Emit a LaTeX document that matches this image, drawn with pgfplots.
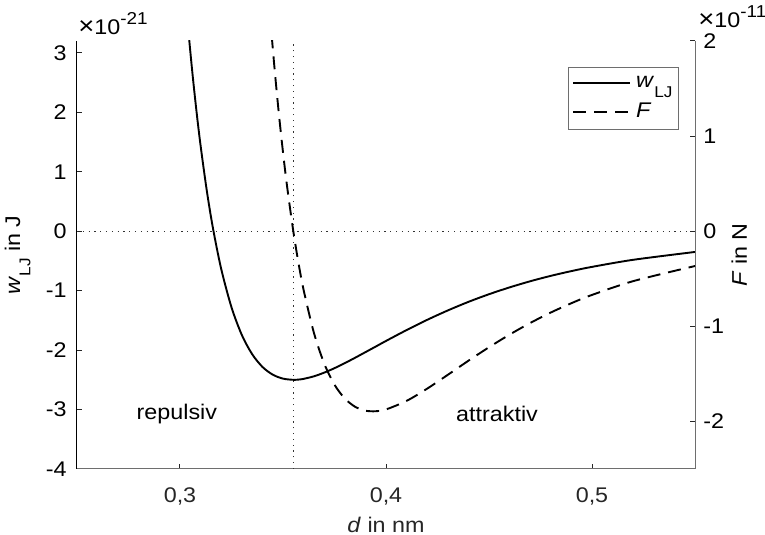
\documentclass[border=0pt]{standalone}
\usepackage{fontspec}
\setmainfont{Liberation Sans}[FakeStretch=1.1]
\usepackage{pgfplots}
\pgfplotsset{compat=1.18}

\definecolor{axdark}{RGB}{38,38,38}
\definecolor{axgray}{RGB}{110,110,110}
\definecolor{guide}{RGB}{50,50,50}
\newcommand{\fs}{\fontsize{10.6}{12.7}\selectfont}
% lowered, smaller subscript and raised exponent
\newcommand{\sub}[1]{\raisebox{-5.2pt}{\fontsize{7.8}{9}\selectfont #1}}
\newcommand{\expo}[1]{{\fontsize{12.5}{13}\selectfont\texttimes}10\raisebox{5pt}{\fontsize{8.6}{10}\selectfont #1}}

% Lennard-Jones potential w (in 1e-21 J) and force F (in 1e-11 N) over the distance d (nm)
\pgfplotsset{
  lj base/.style={
    scale only axis, width=309pt, height=214pt,
    xmin=0.25, xmax=0.55,
    tick align=inside, major tick length=2.5pt,
    /pgf/number format/assume math mode=true,
    tick label style={font=\fs},
    label style={font=\fs},
    axis line style={-},
    minor tick num=0,
  },
  curve/.style={black, line width=0.95pt, smooth},
  guideline/.style={guide, line width=0.55pt, dash pattern=on 0.6pt off 2.3pt},
}

\begin{document}
\begin{tikzpicture}[font=\fs]
\begin{axis}[lj base, name=main,
  ymin=-4, ymax=3.2,
  axis x line*=bottom, axis y line*=left,
  x axis line style={axgray, line width=0.5pt},
  y axis line style={black, line width=0.5pt},
  major tick style={axdark, line width=0.5pt},
  xtick={0.3,0.4,0.5}, xticklabels={{0,3},{0,4},{0,5}},
  ytick={-4,-3,...,3},
  xticklabel style={inner sep=0pt, anchor=north, yshift=-9pt, text=axdark},
  yticklabel style={inner sep=0pt, anchor=east, xshift=-5pt},
  xlabel={\textit{d} in nm},
  xlabel style={at={(axis description cs:0.5,0)}, anchor=base, yshift=-32pt, text=axdark},
  ylabel={\textit{w}\sub{LJ} in J},
  ylabel style={at={(axis description cs:-0.0922,0.5)}, anchor=base},
]
  % reference lines: zero level and equilibrium distance
  \addplot[guideline] coordinates {(0.25,0) (0.55,0)};
  \addplot[guideline] coordinates {(0.355,-4) (0.355,3.2)};

  \addplot[curve] coordinates {
    (0.300,5.117) (0.302,4.210) (0.304,3.398) (0.306,2.670) (0.308,2.019)
    (0.310,1.439) (0.313,0.684) (0.316,0.051) (0.320,-0.634) (0.325,-1.280)
    (0.330,-1.744) (0.335,-2.067) (0.340,-2.282) (0.345,-2.413) (0.350,-2.480)
    (0.355,-2.500) (0.3575,-2.496) (0.360,-2.484) (0.365,-2.441) (0.370,-2.379)
    (0.375,-2.304) (0.380,-2.219) (0.385,-2.129) (0.390,-2.035) (0.395,-1.941)
    (0.400,-1.846) (0.410,-1.663) (0.420,-1.491) (0.430,-1.333) (0.440,-1.189)
    (0.450,-1.060) (0.460,-0.945) (0.470,-0.842) (0.480,-0.751) (0.490,-0.671)
    (0.500,-0.600) (0.520,-0.481) (0.550,-0.349)
  };

  \node[inner sep=0pt] at (axis cs:0.2985,-3.07) {repulsiv};
  \node[inner sep=0pt] at (axis cs:0.4539,-3.07) {attraktiv};
\end{axis}

\begin{axis}[lj base, name=twin,
  ymin=-2.5, ymax=2,
  axis x line=none, axis y line*=right,
  y axis line style={axgray, line width=0.5pt},
  major tick style={axdark, line width=0.5pt},
  ytick={-2,-1,...,2},
  yticklabel style={inner sep=0pt, anchor=west, xshift=4pt},
  ylabel={\textit{F} in N},
  ylabel style={at={(axis description cs:1.0841,0.5)}, anchor=base},
  legend style={at={(axis description cs:0.974,0.940)}, anchor=north east,
    draw=axgray, line width=0.5pt, fill=white, font=\fs,
    inner xsep=2pt, inner ysep=2pt, row sep=1.5pt, column sep=1.5pt,
    nodes={inner xsep=1pt, inner ysep=2.5pt}},
  legend cell align=left,
  legend image code/.code={\draw[#1, line width=0.95pt] (0pt,0pt) -- (28.5pt,0pt);},
]
  \addlegendimage{black, solid}
  \addlegendentry{\textit{w}\sub{LJ}}

  \addplot[curve, dash pattern=on 6.5pt off 4pt] coordinates {
    (0.340,3.380) (0.342,2.753) (0.344,2.189) (0.346,1.685) (0.348,1.233)
    (0.350,0.829) (0.352,0.468) (0.355,0.000) (0.3575,-0.332) (0.360,-0.617)
    (0.365,-1.068) (0.370,-1.391) (0.375,-1.614) (0.380,-1.759) (0.385,-1.846)
    (0.390,-1.887) (0.395,-1.893) (0.400,-1.874) (0.410,-1.784) (0.420,-1.655)
    (0.430,-1.510) (0.440,-1.362) (0.450,-1.220) (0.460,-1.087) (0.470,-0.965)
    (0.480,-0.855) (0.490,-0.757) (0.500,-0.670) (0.520,-0.525) (0.550,-0.366)
  };
  \addlegendentry{\textit{F}}
\end{axis}

% exponent labels of both value axes
\node[anchor=base west, inner sep=0pt] at ([xshift=0.5pt,yshift=3pt]main.north west)
  {\expo{-21}};
\node[anchor=base west, inner sep=0pt] at ([xshift=1.5pt,yshift=6.8pt]twin.north east)
  {\expo{-11}};

\pgfresetboundingbox
\useasboundingbox ([xshift=-38.5pt,yshift=-33pt]main.south west)
  rectangle ([xshift=35pt,yshift=20.5pt]main.north east);
\end{tikzpicture}
\end{document}
